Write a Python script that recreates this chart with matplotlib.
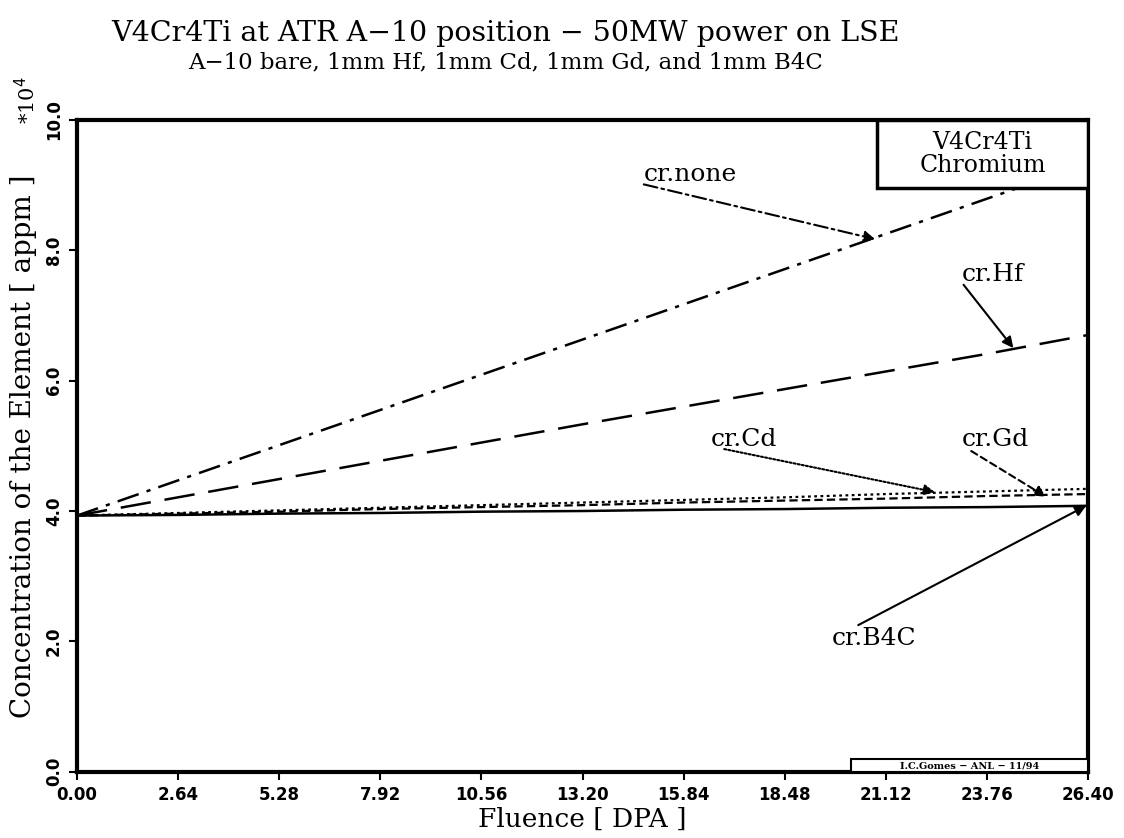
import matplotlib
matplotlib.use("Agg")
import matplotlib.pyplot as plt
from matplotlib.patches import Rectangle

plt.rcParams['lines.scale_dashes'] = False

# fluence [DPA] and chromium concentration [*1e4 appm]
dpa = [0.00, 2.64, 5.28, 7.92, 10.56, 13.20, 15.84, 18.48, 21.12, 23.76, 26.40]
cr_none = [3.93, 4.47, 5.01, 5.55, 6.09, 6.63, 7.17, 7.71, 8.25, 8.79, 9.33]
cr_hf = [3.93, 4.21, 4.49, 4.77, 5.05, 5.33, 5.60, 5.87, 6.14, 6.41, 6.70]
cr_cd = [3.93, 3.97, 4.01, 4.05, 4.09, 4.13, 4.17, 4.21, 4.26, 4.30, 4.34]
cr_gd = [3.93, 3.96, 3.99, 4.03, 4.06, 4.09, 4.13, 4.16, 4.19, 4.23, 4.26]
cr_b4c = [3.93, 3.94, 3.96, 3.97, 3.99, 4.00, 4.02, 4.03, 4.05, 4.06, 4.08]

xticks = [0.00, 2.64, 5.28, 7.92, 10.56, 13.20, 15.84, 18.48, 21.12, 23.76, 26.40]
yticks = [0.0, 2.0, 4.0, 6.0, 8.0, 10.0]

serif = 'DejaVu Serif'

fig = plt.figure(figsize=(11.24, 8.38), dpi=100)
ax = fig.add_axes([0.0685, 0.079, 0.8995, 0.778])

ax.plot(dpa, cr_none, color='black', lw=1.8, dashes=(16, 6, 3, 6))
ax.plot(dpa, cr_hf, color='black', lw=1.8, dashes=(22, 10))
ax.plot(dpa, cr_cd, color='black', lw=1.6, dashes=(2, 2.5))
ax.plot(dpa, cr_gd, color='black', lw=1.6, dashes=(6, 3))
ax.plot(dpa, cr_b4c, color='black', lw=1.8)

ax.set_xlim(0, 26.4)
ax.set_ylim(0, 10)
ax.set_xticks(xticks)
ax.set_xticklabels([f'{t:.2f}' for t in xticks], fontsize=12, fontweight='bold')
ax.set_yticks(yticks)
ax.set_yticklabels([f'{t:.1f}' for t in yticks], fontsize=12, fontweight='bold',
                   rotation=90, va='center')
ax.tick_params(direction='out', length=6, width=1.5, pad=4)
for s in ax.spines.values():
    s.set_linewidth(3)

ax.set_xlabel('Fluence [ DPA ]', fontsize=19, family=serif, labelpad=2)
ax.set_ylabel('Concentration of the Element [ appm ]', fontsize=20, family=serif, labelpad=6)

fig.text(0.45, 0.960, 'V4Cr4Ti at ATR A\u221210 position \u2212 50MW power on LSE',
         ha='center', va='center', fontsize=20.5, family=serif)
fig.text(0.45, 0.926, 'A\u221210 bare, 1mm Hf, 1mm Cd, 1mm Gd, and 1mm B4C',
         ha='center', va='center', fontsize=16.5, family=serif)
fig.text(0.024, 0.88, '*10$^4$', rotation=90, ha='center', va='center',
         fontsize=15, family=serif)

# label box top right
ax.add_patch(Rectangle((20.9, 8.95), 5.5, 1.05, transform=ax.transData,
                       facecolor='white', edgecolor='black', lw=2.5, zorder=5))
ax.text(23.65, 9.48, 'V4Cr4Ti\nChromium', ha='center', va='center', fontsize=17,
        family=serif, linespacing=1.0, zorder=6)

# credit box bottom right
ax.add_patch(Rectangle((20.2, 0.0), 6.2, 0.19, transform=ax.transData,
                       facecolor='white', edgecolor='black', lw=1.5, zorder=5))
ax.text(23.3, 0.095, 'I.C.Gomes \u2212 ANL \u2212 11/94', ha='center', va='center',
        fontsize=7, fontweight='bold', family=serif, zorder=6)

# curve annotations
def note(label, xy, xytext, ls, textpos):
    ax.annotate('', xy=xy, xytext=xytext,
                arrowprops=dict(arrowstyle='-|>', color='black', lw=1.5,
                                linestyle=ls, mutation_scale=16,
                                shrinkA=0, shrinkB=0))
    ax.text(textpos[0], textpos[1], label, fontsize=18, family=serif,
            ha='left', va='bottom')

note('cr.none', (20.84, 8.17), (14.8, 9.01), (0, (10, 3, 2, 3)), (14.8, 8.98))
note('cr.Hf', (24.45, 6.50), (23.15, 7.47), '-', (23.1, 7.45))
note('cr.Cd', (22.4, 4.29), (16.9, 4.95), (0, (1.5, 1.5)), (16.55, 4.92))
note('cr.Gd', (25.3, 4.22), (23.35, 4.92), (0, (5, 3)), (23.1, 4.92))
note('cr.B4C', (26.35, 4.08), (20.4, 2.25), '-', (19.7, 1.87))

fig.savefig('out.png', dpi=100)
